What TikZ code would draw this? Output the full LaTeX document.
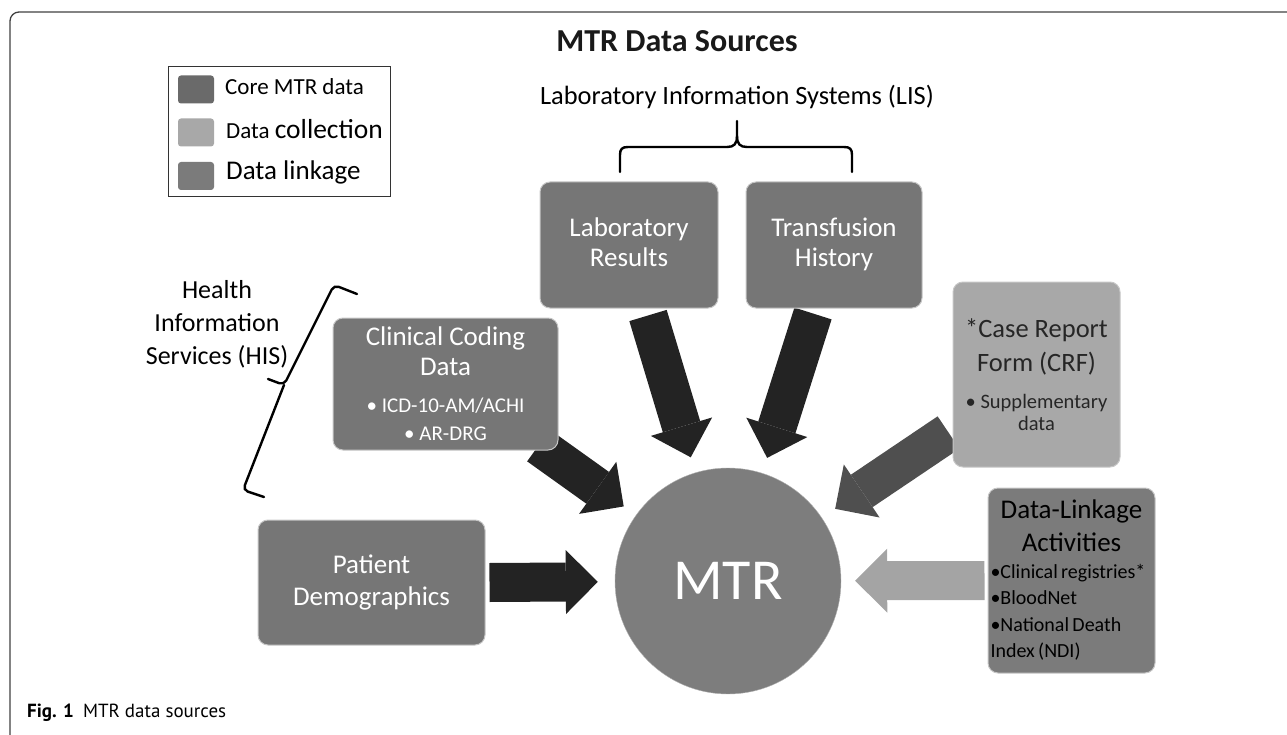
\documentclass[tikz,border=0pt]{standalone}
\usepackage{fontspec}
\setmainfont{Carlito}
\newfontfamily\capfont{PT Sans}
\usetikzlibrary{positioning,calc,arrows.meta,backgrounds}

\definecolor{coregray}{HTML}{767676}
\definecolor{collectgray}{HTML}{A8A8A8}
\definecolor{linkgray}{HTML}{7B7B7B}
\definecolor{arrowdark}{HTML}{232323}
\definecolor{arrowmid}{HTML}{4F4F4F}
\definecolor{arrowlight}{HTML}{A4A4A4}

\newcommand{\fsz}[2]{\fontsize{#1}{#2}\selectfont}

\tikzstyle{corebox} = [draw=gray!45, fill=coregray, line width=1pt,
    rectangle, rounded corners=10pt, text=white, align=center, inner sep=4pt]
\tikzstyle{collectbox} = [corebox, fill=collectgray, text=black!85]
\tikzstyle{linkbox} = [corebox, fill=linkgray, text=black]
\tikzstyle{fatarrow} = [line width=39pt, shorten >=16pt,
    -{Triangle[width=64pt,length=32pt,line width'=0pt]}]
\tikzstyle{swatch} = [rounded corners=3pt, minimum width=36pt, minimum height=28pt, inner sep=0pt]
\tikzstyle{legtext} = [anchor=base west, inner sep=0pt]
\tikzstyle{bracket} = [line width=2.4pt, line cap=round]

\begin{document}
\begin{tikzpicture}[x=1pt,y=-1pt]
\useasboundingbox (0,0) rectangle (1287,735);
\draw[black!75, line width=1.3pt, rounded corners=9pt] (10,735) -- (10,12) -- (1287,12);

\node[anchor=base, font=\bfseries\fsz{32}{36}, text=black!90] (title) at (677,52) {MTR Data Sources};

% legend
\node[draw=black!80, line width=1pt, minimum width=222pt, minimum height=130pt, inner sep=0pt] (legend) at (279,132) {};
\node[swatch, fill=coregray!90!black] (sw1) at (196,89.5) {};
\node[swatch, fill=collectgray] (sw2) at (196,132.5) {};
\node[swatch, fill=linkgray] (sw3) at (196,176) {};
\node[legtext, font=\fsz{23}{26}] (lg1) at (225,95) {Core MTR data};
\node[legtext, font=\fsz{23}{26}] (lg2) at (226,139) {Data {\fsz{27.5}{30}collection}};
\node[legtext, font=\fsz{27}{30}] (lg3) at (226,180) {Data linkage};

% LIS
\node[anchor=base, font=\fsz{26.4}{30}] (lis) at (737,105) {Laboratory Information Systems (LIS)};
\node[corebox, minimum width=178pt, minimum height=126pt, font=\fsz{27}{30}] (lab) at (629,245) {\strut Laboratory\\Results\strut};
\node[corebox, minimum width=176pt, minimum height=126pt, font=\fsz{27}{30}, right=27pt of lab] (trans) {\strut Transfusion\\History\strut};
\draw[bracket] (620,172) -- (620,155) .. controls (620,149) and (622,147) .. (628,147)
    -- (727,147) .. controls (734,147) and (737,144) .. (737,136) -- (737,121);
\draw[bracket] (852,172) -- (852,155) .. controls (852,149) and (850,147) .. (844,147)
    -- (747,147) .. controls (740,147) and (737,144) .. (737,136);

% HIS
\node[align=center, font=\fsz{26}{33}] (his) at (217,324) {Health\\Information\\Services (HIS)};
\draw[bracket, rounded corners=5pt] (357,294) -- (334,285) -- (284,385) -- (268,379);
\draw[bracket, rounded corners=5pt] (284,385) -- (243,490) -- (264,497);

\node[corebox, minimum width=225pt, minimum height=132pt, font=\fsz{21}{28}] (clin) at (445.5,384)
    {{\fsz{27}{30}Clinical Coding}\\[2pt]{\fsz{27}{30}Data}\\[9pt]• ICD-10-AM/ACHI\\• AR-DRG};
\node[corebox, minimum width=227pt, minimum height=125pt, font=\fsz{27}{32}] (pat) at (371.5,582.5) {Patient\\Demographics};

% centre
\node[circle, draw=gray!60, fill=coregray!95!white, minimum size=226pt, inner sep=0pt,
    text=white, font=\fsz{58}{60}] (mtr) at (728,581) {MTR};

\node[collectbox, minimum width=167pt, minimum height=185pt, font=\fsz{20.5}{22}] (crf) at (1036.5,374.5)
    {{\fsz{26.5}{31}*Case Report}\\[9pt]{\fsz{26.5}{31}Form (CRF)}\\[15pt]• Supplementary\\data};
\node[linkbox, minimum width=167pt, minimum height=185pt, text width=162pt, inner xsep=2pt] (link) at (1071.5,580.5)
    {{\centering\fsz{27}{33}Data-Linkage\\Activities\par}
     {\raggedright\fsz{20}{26.5}•Clinical registries*\\•BloodNet\\•National Death\\Index (NDI)\par}};

\begin{pgfonlayer}{background}
\coordinate (labtail) at ($(lab.south)+(19,7)$);
\coordinate (transtail) at ($(trans.south)+(-21,5)$);
\coordinate (clintail) at ($(clin.south east)+(-20,-5)$);
\coordinate (crftail) at ($(crf.south west)+(-4,-35)$);
\draw[fatarrow, draw=arrowdark] (labtail) -- (mtr);
\draw[fatarrow, draw=arrowdark] (transtail) -- (mtr);
\draw[fatarrow, draw=arrowdark, shorten >=15pt] (clintail) -- (mtr);
\draw[fatarrow, draw=arrowdark, shorten >=17pt] ([xshift=4pt]pat.east) -- (mtr);
\draw[fatarrow, draw=arrowmid] (crftail) -- (mtr);
\draw[fatarrow, draw=arrowlight, shorten >=14pt] ([xshift=-3pt]link.west) -- (mtr);
\end{pgfonlayer}

\node[legtext, font=\capfont\fsz{19}{21}] (cap) at (27,717) {\textbf{Fig. 1}\hspace{9pt}MTR data sources};
\end{tikzpicture}
\end{document}
